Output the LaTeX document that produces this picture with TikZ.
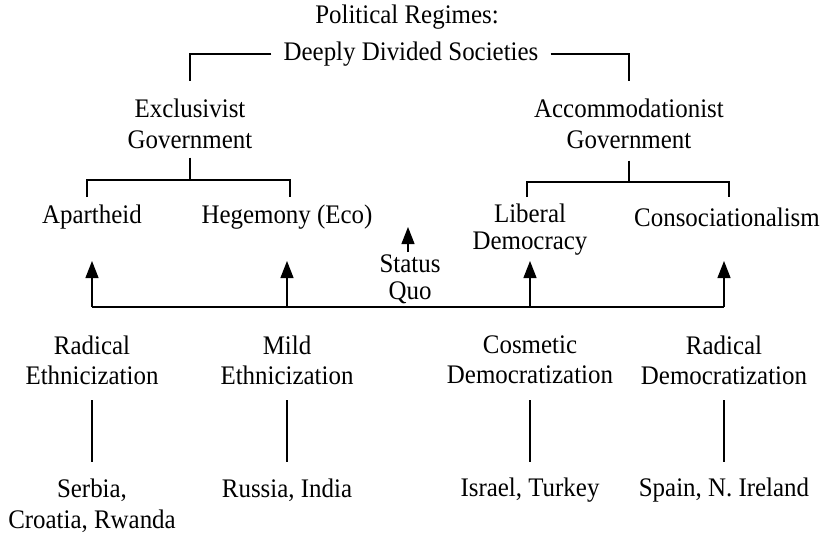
\documentclass[tikz,border=0pt]{standalone}
\usepackage{fontspec}
\setmainfont[FakeStretch=0.93]{Liberation Serif}
\usetikzlibrary{arrows.meta}
\begin{document}
\begin{tikzpicture}[x=1pt,y=-1pt,
  lbl/.style={align=center, font=\fontsize{26.8}{31}\selectfont, inner sep=0pt},
  ln/.style={line width=1.2pt},
  arr/.style={line width=1.2pt,-{Triangle[width=13pt,length=17pt]}}]
\useasboundingbox (0,0) rectangle (826,533);
% top
\node[lbl] (pr)  at (407,17) {Political Regimes:};
\node[lbl,inner xsep=12pt] (dds) at (411,54) {Deeply Divided Societies};
\node[lbl] (excl) at (190,123.5) {Exclusivist\\Government};
\node[lbl] (acc)  at (629,123.5) {Accommodationist\\Government};
\draw[ln,shorten >=17pt] (dds.west) -| (excl.north);
\draw[ln,shorten >=17pt] (dds.east) -| (acc.north);
% regimes
\node[lbl] (apart) at (92,217) {Apartheid};
\node[lbl] (hege)  at (287,217) {Hegemony (Eco)};
\node[lbl,font=\fontsize{26.8}{27}\selectfont] (lib) at (530,230) {Liberal\\Democracy};
\node[lbl] (cons)  at (727,217) {Consociationalism};
\node[lbl,font=\fontsize{26.8}{26.5}\selectfont] (sq) at (410,279.5) {Status\\Quo};
% lower brackets
\coordinate (ej) at (190,180);
\coordinate (aj) at (629,182);
\coordinate (eL) at (87,197);
\coordinate (eR) at (290,197);
\coordinate (aL) at (527,197);
\coordinate (aR) at (729,197);
\draw[ln,shorten <=9pt] (excl.south) -- (ej);
\draw[ln] (eL) -- (eL |- ej) -- (eR |- ej) -- (eR);
\draw[ln,shorten <=12pt] (acc.south) -- (aj);
\draw[ln] (aL) -- (aL |- aj) -- (aR |- aj) -- (aR);
% arrows
\coordinate (b1) at (92,307);
\coordinate (b2) at (287,307);
\coordinate (b3) at (530,307);
\coordinate (b4) at (724,307);
\coordinate (tipy) at (0,261);
\draw[ln] (b1) -- (b4);
\draw[arr] (b1) -- (b1 |- tipy);
\draw[arr] (b2) -- (b2 |- tipy);
\draw[arr] (b3) -- (b3 |- tipy);
\draw[arr] (b4) -- (b4 |- tipy);
\draw[arr,shorten <=3pt] (sq.north -| 408,0) -- (408,227);
% processes
\node[lbl,font=\fontsize{26.8}{30}\selectfont] (re) at (92,360) {Radical\\Ethnicization};
\node[lbl,font=\fontsize{26.8}{30}\selectfont] (me) at (287,360) {Mild\\Ethnicization};
\node[lbl,font=\fontsize{26.8}{30}\selectfont] (cd) at (530,360) {Cosmetic\\Democratization};
\node[lbl,font=\fontsize{26.8}{30}\selectfont] (rd) at (724,360) {Radical\\Democratization};
% cases
\node[lbl] (c1) at (92,505.5) {Serbia,\\Croatia, Rwanda};
\node[lbl] (c2) at (287,490) {Russia, India};
\node[lbl] (c3) at (530,490) {Israel, Turkey};
\node[lbl] (c4) at (724,490) {Spain, N. Ireland};
\draw[ln] (re.south |- 0,400) -- (c1.north |- 0,462);
\draw[ln] (me.south |- 0,400) -- (c2.north |- 0,462);
\draw[ln] (cd.south |- 0,400) -- (c3.north |- 0,462);
\draw[ln] (rd.south |- 0,400) -- (c4.north |- 0,462);
\end{tikzpicture}
\end{document}
